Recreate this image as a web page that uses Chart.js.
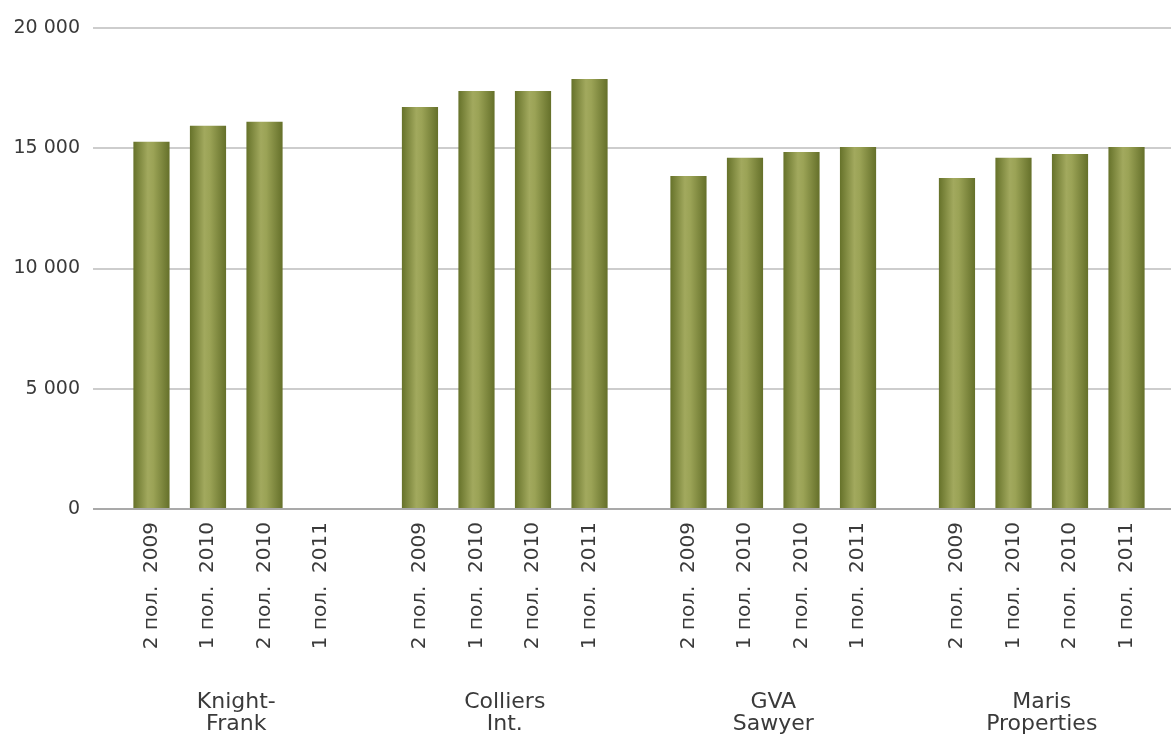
<!DOCTYPE html>
<html>
<head>
<meta charset="utf-8">
<script src="https://cdn.jsdelivr.net/npm/chart.js@4"></script>
<style>
  html, body { margin: 0; padding: 0; background: #fff; overflow: hidden; width: 1171px; height: 736px; }
  canvas { display: block; }
</style>
</head>
<body>
<canvas id="rentChart" width="1176" height="736"></canvas>
<script>
// companies on the x axis
const companies = [["Knight-", "Frank"], ["Colliers", "Int."], ["GVA", "Sawyer"], ["Maris", "Properties"]];
// periods (one bar each inside a company group)
const periods = ["2 пол.  2009", "1 пол.  2010", "2 пол.  2010", "1 пол.  2011"];
// values per period, in the order of companies
const h2_2009 = [15270, 16720, 13850, 13760];
const h1_2010 = [15940, 17380, 14600, 14600];
const h2_2010 = [16100, 17380, 14840, 14760];
const h1_2011 = [null, 17880, 15050, 15050];
const yTicks = [0, 5000, 10000, 15000, 20000];

const series = [h2_2009, h1_2010, h2_2010, h1_2011];
const textColor = "#3a3a3a";

// bars shaded like cylinders
const gradientBars = {
    id: "gradientBars",
    beforeDatasetsDraw(chart) {
        const ctx = chart.ctx;
        chart.data.datasets.forEach((ds, i) => {
            chart.getDatasetMeta(i).data.forEach(bar => {
                if (!bar.width) return;
                const g = ctx.createLinearGradient(bar.x - bar.width / 2, 0, bar.x + bar.width / 2, 0);
                g.addColorStop(0, "#66722a");
                g.addColorStop(0.4, "#a2a95e");
                g.addColorStop(0.55, "#9ba356");
                g.addColorStop(1, "#65702a");
                bar.options = Object.assign({}, bar.options, { backgroundColor: g });
            });
        });
    }
};

// rotated period labels below each bar, company names below them
const axisLabels = {
    id: "axisLabels",
    afterDraw(chart) {
        const ctx = chart.ctx;
        const bottom = chart.chartArea.bottom;
        const xs = chart.scales.x;
        ctx.save();
        ctx.fillStyle = textColor;
        ctx.font = "20px 'DejaVu Sans'";
        ctx.textAlign = "right";
        ctx.textBaseline = "middle";
        chart.data.datasets.forEach((ds, i) => {
            chart.getDatasetMeta(i).data.forEach(bar => {
                ctx.save();
                ctx.translate(bar.x, bottom + 13);
                ctx.rotate(-Math.PI / 2);
                ctx.fillText(ds.label, 0, 0);
                ctx.restore();
            });
        });
        ctx.font = "22px 'DejaVu Sans'";
        ctx.textAlign = "center";
        ctx.textBaseline = "alphabetic";
        chart.data.labels.forEach((lines, i) => {
            const x = xs.getPixelForValue(i);
            lines.forEach((t, j) => ctx.fillText(t, x, bottom + 199 + j * 22));
        });
        ctx.restore();
    }
};

new Chart(document.getElementById("rentChart"), {
    type: "bar",
    data: {
        labels: companies,
        datasets: series.map((vals, i) => ({
            label: periods[i],
            data: vals,
            backgroundColor: "#8b9444",
            categoryPercentage: 0.842,
            barPercentage: 0.64
        }))
    },
    options: {
        responsive: false,
        animation: false,
        layout: { padding: { top: 28, left: 0, right: 0, bottom: 0 } },
        plugins: { legend: { display: false }, tooltip: { enabled: false } },
        scales: {
            x: {
                grid: { display: false, drawTicks: false },
                border: { display: false },
                ticks: { display: false },
                afterFit: axis => { axis.height = 227; }
            },
            y: {
                min: 0,
                max: 20000,
                afterBuildTicks: axis => { axis.ticks = yTicks.map(v => ({ value: v })); },
                afterFit: axis => { axis.width = 102; },
                grid: {
                    color: c => c.tick && c.tick.value === 0 ? "#a9a9a9" : "#cdcdcd",
                    tickColor: c => c.tick && c.tick.value === 0 ? "#a9a9a9" : "#cdcdcd",
                    lineWidth: 2,
                    tickLength: 9
                },
                border: { display: false },
                ticks: {
                    color: textColor,
                    font: { family: "DejaVu Sans", size: 19 },
                    padding: 13,
                    callback: v => String(v).replace(/\B(?=(\d{3})+(?!\d))/g, " ")
                }
            }
        }
    },
    plugins: [gradientBars, axisLabels]
});
</script>
</body>
</html>
